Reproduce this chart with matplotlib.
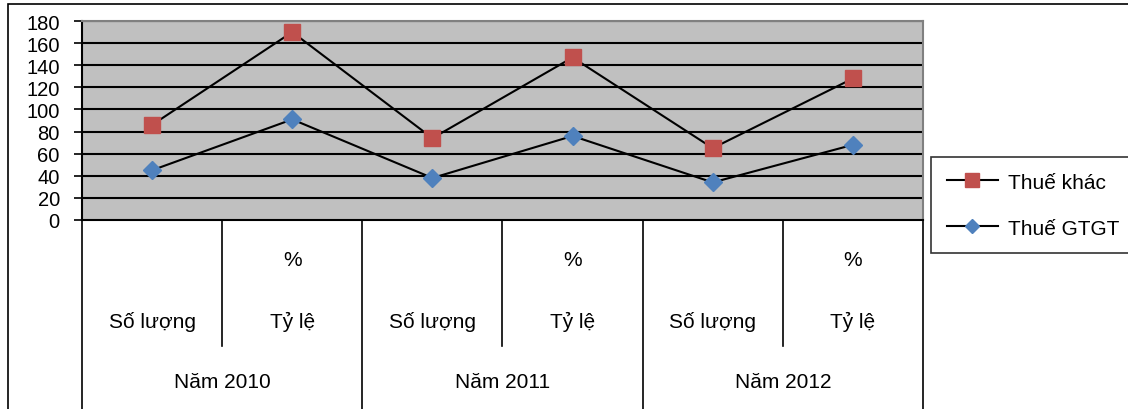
import matplotlib
matplotlib.use("Agg")
import matplotlib.pyplot as plt
from matplotlib.lines import Line2D
from matplotlib.patches import Rectangle

plt.rcParams['font.family'] = ['Liberation Sans', 'DejaVu Sans']

sub_labels = ["Số lượng", "Tỷ lệ", "Số lượng", "Tỷ lệ", "Số lượng", "Tỷ lệ"]
pct_labels = ["", "%", "", "%", "", "%"]
groups = ["Năm 2010", "Năm 2011", "Năm 2012"]
thue_khac = [86, 170, 74, 147, 65, 128]
thue_gtgt = [45, 91, 38, 76, 34, 68]
yticks = [0, 20, 40, 60, 80, 100, 120, 140, 160, 180]

W, H = 1128, 410
fig = plt.figure(figsize=(W / 100, H / 100), dpi=100)
fig.patch.set_facecolor('white')

# outer frame
fig.add_artist(Rectangle((8 / W, -0.05), 1.2, 1 - 5 / H + 0.05, transform=fig.transFigure,
                         fill=False, edgecolor='black', linewidth=1.2))

ax = fig.add_axes([82 / W, 1 - 221 / H, (923 - 82) / W, (221 - 22) / H])
ax.set_facecolor('#C0C0C0')
ax.set_xlim(0, 6)
ax.set_ylim(0, 180)
ax.set_yticks(yticks)
ax.set_yticklabels([str(v) for v in yticks], fontsize=14.5)
ax.tick_params(axis='y', direction='out', length=6, width=1.2, pad=10)
ax.set_xticks([])
for v in yticks[1:]:
    ax.axhline(v, color='black', linewidth=1.5, zorder=1)
ax.spines['left'].set_color('black')
ax.spines['left'].set_linewidth(1.5)
ax.spines['bottom'].set_color('black')
ax.spines['bottom'].set_linewidth(1.5)
ax.spines['top'].set_color('#808080')
ax.spines['top'].set_linewidth(1.5)
ax.spines['right'].set_color('#808080')
ax.spines['right'].set_linewidth(1.5)

xs = [i + 0.5 for i in range(len(sub_labels))]
ax.plot(xs, thue_khac, color='black', linewidth=1.5, marker='s', markersize=11.5,
        markerfacecolor='#C0504D', markeredgecolor='#C0504D', zorder=3, label='Thuế khác')
ax.plot(xs, thue_gtgt, color='black', linewidth=1.5, marker='D', markersize=9,
        markerfacecolor='#4F81BD', markeredgecolor='#4F81BD', zorder=3, label='Thuế GTGT')

tr = ax.get_xaxis_transform()
# category dividers
for x in [0, 2, 4, 6]:
    ax.plot([x, x], [0, -1.0], color='black', linewidth=1.2, transform=tr, clip_on=False)
for x in [1, 3, 5]:
    ax.plot([x, x], [0, -0.633], color='black', linewidth=1.2, transform=tr, clip_on=False)

for x, s, p in zip(xs, sub_labels, pct_labels):
    ax.text(x, -0.508, s, transform=tr, ha='center', va='center', fontsize=15)
    if p:
        ax.text(x, -0.196, p, transform=tr, ha='center', va='center', fontsize=15)
for i, g in enumerate(groups):
    ax.text(2 * i + 1, -0.814, g, transform=tr, ha='center', va='center', fontsize=15)

handles = [
    Line2D([], [], color='black', linewidth=1.5, marker='s', markersize=9.5,
           markerfacecolor='#C0504D', markeredgecolor='#C0504D'),
    Line2D([], [], color='black', linewidth=1.5, marker='D', markersize=7.5,
           markerfacecolor='#4F81BD', markeredgecolor='#4F81BD'),
]
leg = fig.legend(handles, ['Thuế khác', 'Thuế GTGT'], loc='upper left',
                 bbox_to_anchor=(931 / W, 1 - 158 / H), fontsize=15, frameon=True,
                 fancybox=False, edgecolor='black', handlelength=2.45, handletextpad=0.5,
                 labelspacing=1.3, borderpad=0.75, borderaxespad=0)
leg.get_frame().set_linewidth(1.2)

fig.savefig('out.png', dpi=100)
